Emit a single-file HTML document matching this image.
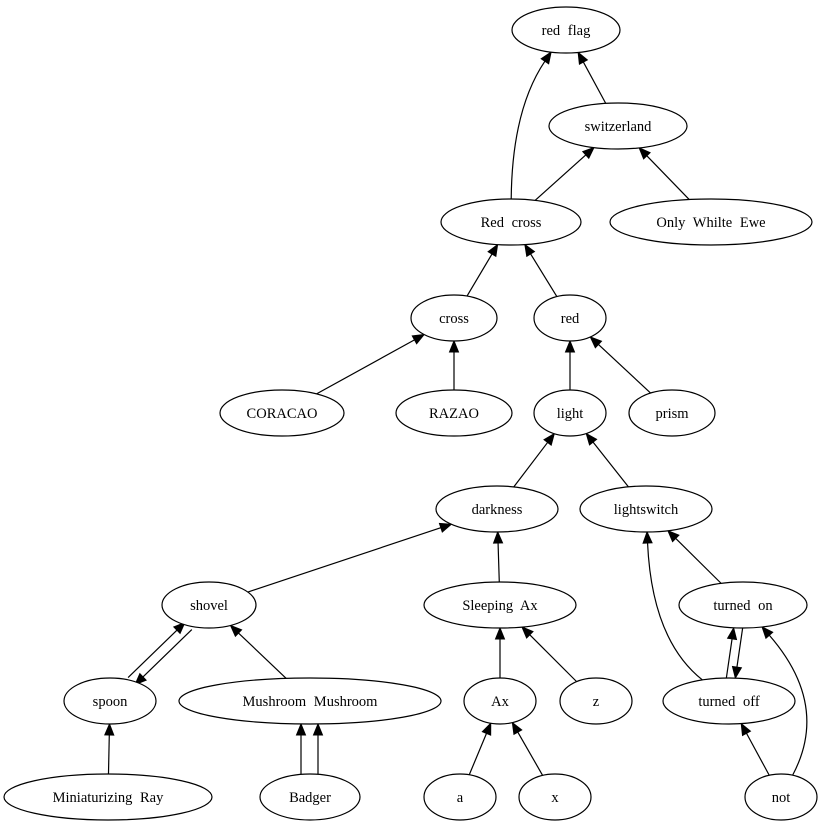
<!DOCTYPE html>
<html><head><meta charset="utf-8"><style>
html,body{margin:0;padding:0;background:#fff}
svg text{font-family:"Liberation Serif",serif;font-size:14.5px;word-spacing:4px}
</style></head><body>
<svg id="g" width="823" height="827" viewBox="0 0 823 827" xmlns="http://www.w3.org/2000/svg"></svg>
<script>
const N={
 rf:[566,30,54,"red flag"],sw:[618,126,69,"switzerland"],rc:[511,222,70,"Red cross"],
 ow:[711,222,101,"Only Whilte Ewe"],cr:[454,318,43,"cross"],rd:[570,318,36,"red"],
 co:[282,413,62,"CORACAO"],rz:[454,413,58,"RAZAO"],li:[570,413,36,"light"],pr:[672,413,43,"prism"],
 dk:[497,509,61,"darkness"],ls:[646,509,66,"lightswitch"],sh:[209,605,47,"shovel"],
 sa:[500,605,76,"Sleeping Ax"],to:[743,605,64,"turned on"],sp:[110,701,46,"spoon"],
 mm:[310,701,131,"Mushroom Mushroom"],ax:[500,701,36,"Ax"],z:[596,701,36,"z"],
 tf:[729,701,66,"turned off"],mr:[108,797,104,"Miniaturizing Ray"],bd:[310,797,50,"Badger"],
 a:[460,797,36,"a"],x:[555,797,36,"x"],no:[781,797,36,"not"]};
const RY=23;
let s="";
function clip(n,px,py,ox,oy){
 const cx=n[0]+ox,cy=n[1]+oy;let dx=px-cx,dy=py-cy;
 const t=1/Math.sqrt((dx/n[2])**2+(dy/RY)**2);return [cx+t*dx,cy+t*dy];}
function arrow(tip,from){const dx=tip[0]-from[0],dy=tip[1]-from[1],L=Math.hypot(dx,dy),ux=dx/L,uy=dy/L;
 const bx=tip[0]-ux*11,by=tip[1]-uy*11;
 s+=`<polygon points="${tip[0]},${tip[1]} ${bx-uy*4.5},${by+ux*4.5} ${bx+uy*4.5},${by-ux*4.5}" fill="#000" stroke="#000"/>`;
 return [bx,by];}
function e(c,p,ctrl,oc,op){oc=oc||[0,0];op=op||[0,0];const C=N[c],P=N[p];
 if(!ctrl){const a=clip(C,P[0]+op[0],P[1]+op[1],oc[0],oc[1]);const b=clip(P,C[0]+oc[0],C[1]+oc[1],op[0],op[1]);
  const bb=arrow(b,a);s+=`<path d="M${a} L${bb}" stroke="#000" fill="none" stroke-width="1.2"/>`;}
 else{const a=clip(C,ctrl[0],ctrl[1],oc[0],oc[1]);const b=clip(P,ctrl[0],ctrl[1],op[0],op[1]);
  const bb=arrow(b,ctrl);s+=`<path d="M${a} Q${ctrl} ${bb}" stroke="#000" fill="none" stroke-width="1.2"/>`;}}
e("sw","rf");e("rc","rf",[512,110]);e("rc","sw");e("ow","sw");e("cr","rc");e("rd","rc");
e("co","cr");e("rz","cr");e("li","rd");e("pr","rd");e("dk","li");e("ls","li");
e("sh","dk");e("sa","dk");e("to","ls");e("tf","ls",[652,640]);
e("sp","sh",null,[-3,-3],[-3,-3]);e("sh","sp",null,[4,4],[4,4]);
e("mm","sh");e("ax","sa");e("z","sa");e("tf","to",null,[-6,0],[-6,0]);e("to","tf",null,[3,0],[3,0]);
e("no","to",[830,705]);e("mr","sp");e("bd","mm",null,[-9,0],[-9,0]);e("bd","mm",null,[8,0],[8,0]);
e("a","ax");e("x","ax");e("no","tf");
for(const k in N){const n=N[k];
 s+=`<ellipse cx="${n[0]}" cy="${n[1]}" rx="${n[2]}" ry="${RY}" fill="#fff" stroke="#000" stroke-width="1.2"/>`;
 s+=`<text x="${n[0]}" y="${n[1]+5}" text-anchor="middle">${n[3]}</text>`;}
document.getElementById("g").innerHTML=s;
</script>
</body></html>
